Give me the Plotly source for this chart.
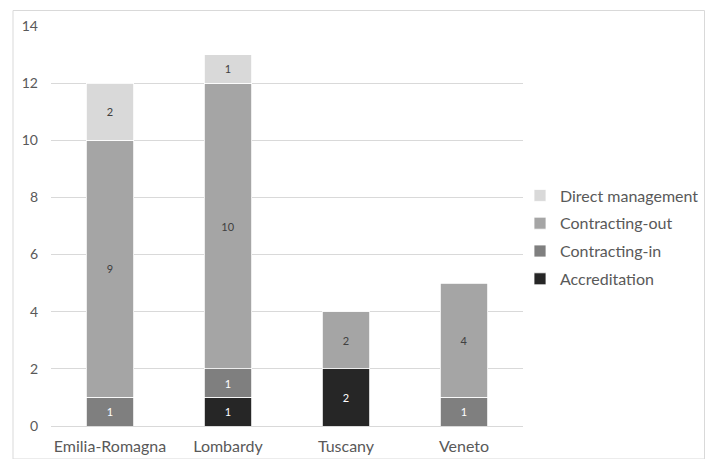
import plotly.graph_objects as go

categories = ["Emilia-Romagna", "Lombardy", "Tuscany", "Veneto"]
series_names = ["Accreditation", "Contracting-in", "Contracting-out", "Direct management"]
accreditation = [0, 1, 2, 0]
contracting_in = [1, 1, 0, 1]
contracting_out = [9, 10, 2, 4]
direct_management = [2, 1, 0, 0]
y_ticks = [0, 2, 4, 6, 8, 10, 12, 14]

series_values = [accreditation, contracting_in, contracting_out, direct_management]
colors = ["#262626", "#7F7F7F", "#A5A5A5", "#D9D9D9"]
label_colors = ["#FFFFFF", "#FFFFFF", "#404040", "#404040"]

FONT = "Lato"

fig = go.Figure()
for i, (name, vals, col, lc) in enumerate(zip(series_names, series_values, colors, label_colors)):
    fig.add_trace(go.Bar(
        x=categories,
        y=[v if v else None for v in vals],
        name=name,
        legendgroup=name,
        legendrank=len(series_names) - i,
        marker=dict(color=col, line=dict(color="#FFFFFF", width=0.8)),
        text=[str(v) if v else "" for v in vals],
        textposition="inside",
        insidetextanchor="middle",
        textangle=0,
        textfont=dict(color=lc, size=11, family=FONT),
        constraintext="none",
        hoverinfo="skip",
    ))

fig.update_layout(
    barmode="stack",
    bargap=0.6,
    width=705, height=459,
    margin=dict(l=51, r=182, t=26, b=33, autoexpand=False),
    paper_bgcolor="white",
    plot_bgcolor="white",
    font=dict(family=FONT, color="#595959", size=13),
    legend=dict(
        x=(560 - 40 - 51) / 472, xanchor="left", y=(426 - 237.5) / 400, yanchor="middle",
        traceorder="grouped",
        tracegroupgap=4,
        font=dict(size=16, color="#595959", family=FONT),
        bgcolor="rgba(0,0,0,0)",
        itemclick=False,
    ),
    xaxis=dict(
        showgrid=False, showline=True, linecolor="#D9D9D9", linewidth=1,
        ticks="", tickfont=dict(size=16, color="#595959"),
        range=[-0.5, 3.5], ticklabelstandoff=6, automargin=False,
    ),
    yaxis=dict(
        range=[0, 14], tickvals=y_ticks, showgrid=True, gridcolor="#D9D9D9",
        gridwidth=1, zeroline=False, showline=False, ticks="",
        tickfont=dict(size=14, color="#595959"), ticklabelstandoff=12,
        automargin=False,
    ),
    shapes=[dict(
        type="rect", xref="paper", yref="paper",
        x0=-38/472, x1=(705 - 51 - 0.5)/472, y0=-33/400, y1=(426 - 10.5)/400,
        line=dict(color="#D9D9D9", width=1), fillcolor="rgba(0,0,0,0)", layer="below",
    )],
)

fig.write_html("out.html")
